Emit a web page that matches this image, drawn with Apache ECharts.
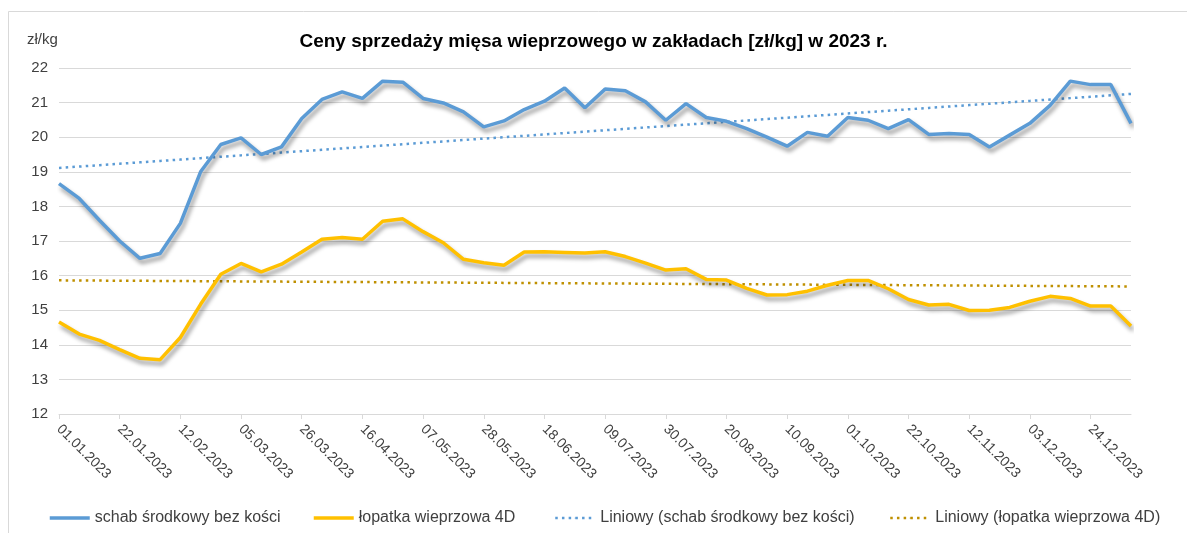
<!DOCTYPE html>
<html><head><meta charset="utf-8">
<script src="https://cdn.jsdelivr.net/npm/echarts@6/dist/echarts.min.js"></script>
<style>html,body{margin:0;padding:0;background:#fff}#c{width:1187px;height:533px}</style>
</head><body><div id="c"></div>
<script>
const categories = ["01.01.2023","08.01.2023","15.01.2023","22.01.2023","29.01.2023","05.02.2023","12.02.2023","19.02.2023","26.02.2023","05.03.2023","12.03.2023","19.03.2023","26.03.2023","02.04.2023","09.04.2023","16.04.2023","23.04.2023","30.04.2023","07.05.2023","14.05.2023","21.05.2023","28.05.2023","04.06.2023","11.06.2023","18.06.2023","25.06.2023","02.07.2023","09.07.2023","16.07.2023","23.07.2023","30.07.2023","06.08.2023","13.08.2023","20.08.2023","27.08.2023","03.09.2023","10.09.2023","17.09.2023","24.09.2023","01.10.2023","08.10.2023","15.10.2023","22.10.2023","29.10.2023","05.11.2023","12.11.2023","19.11.2023","26.11.2023","03.12.2023","10.12.2023","17.12.2023","24.12.2023","31.12.2023","07.01.2024"];
const schab = [18.66,18.23,17.6,17.0,16.5,16.64,17.51,19.0,19.79,19.98,19.5,19.72,20.54,21.09,21.31,21.12,21.62,21.59,21.12,20.99,20.73,20.3,20.47,20.8,21.04,21.42,20.85,21.39,21.34,21.02,20.49,20.97,20.57,20.46,20.25,20.0,19.74,20.14,20.03,20.57,20.49,20.25,20.51,20.08,20.11,20.08,19.72,20.06,20.4,20.92,21.62,21.52,21.52,20.4];
const lopatka = [14.66,14.31,14.13,13.86,13.61,13.57,14.21,15.17,16.04,16.35,16.11,16.33,16.68,17.05,17.1,17.05,17.57,17.64,17.27,16.95,16.47,16.37,16.3,16.68,16.69,16.67,16.65,16.69,16.55,16.36,16.16,16.2,15.89,15.87,15.63,15.44,15.45,15.55,15.72,15.86,15.86,15.62,15.31,15.15,15.17,14.99,15.0,15.08,15.26,15.4,15.34,15.12,15.12,14.54];
const seriesNames = ["schab środkowy bez kości","łopatka wieprzowa 4D","Liniowy (schab środkowy bez kości)","Liniowy (łopatka wieprzowa 4D)"];
const titleText = "Ceny sprzedaży mięsa wieprzowego w zakładach [zł/kg] w 2023 r.";
const unitText = "zł/kg";

function linReg(arr){
  const n = arr.length; let sx=0, sy=0, sxx=0, sxy=0;
  arr.forEach((y,i)=>{sx+=i; sy+=y; sxx+=i*i; sxy+=i*y;});
  const b = (n*sxy - sx*sy)/(n*sxx - sx*sx); const a = (sy - b*sx)/n;
  return arr.map((_,i)=>+(a+b*i).toFixed(4));
}

const FONT = "Liberation Sans";
const blue = "#5B9BD5", yellow = "#FFC000", gold = "#BF9000";
const shadow = {shadowColor:"rgba(0,0,0,0.4)", shadowBlur:4, shadowOffsetX:2, shadowOffsetY:4};
const dotted = [2.5, 4.2];

const chart = echarts.init(document.getElementById('c'), null, {renderer:'canvas'});
function leg(name, left, lw, type){
  return {data:[name], left:left, top:505, itemWidth:40, itemHeight:1.5,
    lineStyle:{width:lw, type:type, cap:"butt", shadowBlur:0, shadowOffsetX:0, shadowOffsetY:0, shadowColor:"transparent"},
    textStyle:{fontFamily:FONT, fontSize:16, color:"#404040"}, selectedMode:false};
}
chart.setOption({
  animation:false,
  backgroundColor:"#fff",
  title:{text:titleText, left:"center", top:27, textStyle:{fontFamily:FONT, fontSize:19, fontWeight:"bold", color:"#000"}},
  graphic:[
    {type:"rect", left:6, top:9, shape:{width:1400, height:800}, style:{fill:"none", stroke:"#d9d9d9", lineWidth:1}, silent:true, z:-1},
    {type:"text", left:27, top:32, style:{text:unitText, font:"15px '"+FONT+"'", fill:"#404040"}}
  ],
  legend:[leg(seriesNames[0],43,3.5,"solid"), leg(seriesNames[1],307,3.5,"solid"), leg(seriesNames[2],549,2.5,dotted), leg(seriesNames[3],884,2.5,dotted)],
  grid:{left:59, right:56, top:68, bottom:119, containLabel:false},
  xAxis:{type:"category", data:categories, boundaryGap:false,
    axisLine:{lineStyle:{color:"#d9d9d9"}},
    axisTick:{show:true, interval:2, length:5, lineStyle:{color:"#d9d9d9"}},
    axisLabel:{interval:2, rotate:-45, margin:13, fontFamily:FONT, fontSize:14, color:"#404040"},
    splitLine:{show:false}},
  yAxis:{type:"value", min:12, max:22, interval:1,
    axisLine:{show:false}, axisTick:{show:false},
    axisLabel:{margin:11, fontFamily:FONT, fontSize:15, color:"#404040"},
    splitLine:{lineStyle:{color:"#d9d9d9", width:1}}},
  series:[
    {name:seriesNames[0], type:"line", data:schab, symbol:"none", showSymbol:false, z:5,
     itemStyle:{color:blue}, lineStyle:Object.assign({color:blue, width:3.5}, shadow)},
    {name:seriesNames[1], type:"line", data:lopatka, symbol:"none", showSymbol:false, z:5,
     itemStyle:{color:yellow}, lineStyle:Object.assign({color:yellow, width:3.5}, shadow)},
    {name:seriesNames[2], type:"line", data:linReg(schab), symbol:"none", showSymbol:false, silent:true, z:4,
     itemStyle:{color:blue}, lineStyle:{color:blue, width:2.5, type:dotted, cap:"butt"}},
    {name:seriesNames[3], type:"line", data:linReg(lopatka), symbol:"none", showSymbol:false, silent:true, z:4,
     itemStyle:{color:gold}, lineStyle:{color:gold, width:2.5, type:dotted, cap:"butt"}}
  ]
});
</script></body></html>
